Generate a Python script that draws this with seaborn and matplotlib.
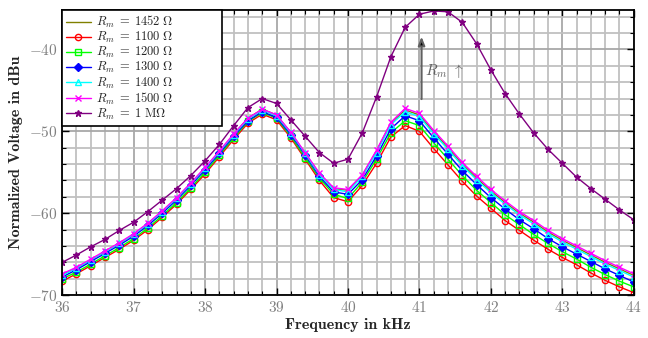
import numpy as np
import pandas as pd
import matplotlib
matplotlib.use('Agg')
import matplotlib.pyplot as plt
import seaborn as sns
from matplotlib.ticker import MultipleLocator

sns.set_style('ticks')
plt.rcParams['font.family'] = ['cmr10', 'DejaVu Serif']
plt.rcParams['mathtext.fontset'] = 'cm'
plt.rcParams['axes.unicode_minus'] = False
plt.rcParams['axes.formatter.use_mathtext'] = True

# Frequenz in kHz (Marker alle 0.2 kHz)
freq = [36.0, 36.2, 36.4, 36.6, 36.8, 37.0, 37.2, 37.4, 37.6, 37.8,
        38.0, 38.2, 38.4, 38.6, 38.8, 39.0, 39.2, 39.4, 39.6, 39.8,
        40.0, 40.2, 40.4, 40.6, 40.8, 41.0, 41.2, 41.4, 41.6, 41.8,
        42.0, 42.2, 42.4, 42.6, 42.8, 43.0, 43.2, 43.4, 43.6, 43.8, 44.0]

v_1100 = [-68.3, -67.4, -66.4, -65.4, -64.4, -63.3, -62.0, -60.5, -58.9, -57.1,
          -55.2, -53.1, -51.0, -49.0, -47.9, -48.6, -50.8, -53.4, -56.0, -58.1,
          -58.6, -56.6, -53.9, -50.7, -49.3, -50.0, -52.1, -54.1, -56.1, -57.9,
          -59.4, -60.9, -62.1, -63.3, -64.4, -65.4, -66.3, -67.3, -68.2, -69.0, -69.7]
v_1200 = [-68.0, -67.2, -66.2, -65.2, -64.2, -63.1, -61.8, -60.3, -58.7, -56.9,
          -55.0, -52.9, -50.8, -48.8, -47.7, -48.4, -50.6, -53.2, -55.7, -57.7,
          -58.2, -56.2, -53.4, -50.2, -48.7, -49.3, -51.4, -53.4, -55.4, -57.2,
          -58.7, -60.2, -61.4, -62.6, -63.7, -64.7, -65.6, -66.6, -67.5, -68.3, -69.0]
v_1300 = [-67.8, -66.9, -65.9, -64.9, -63.9, -62.8, -61.5, -60.0, -58.4, -56.6,
          -54.7, -52.7, -50.6, -48.7, -47.6, -48.3, -50.4, -52.9, -55.5, -57.4,
          -57.7, -55.9, -53.0, -49.7, -48.1, -48.7, -50.8, -52.8, -54.8, -56.5,
          -58.1, -59.5, -60.8, -61.9, -63.1, -64.1, -65.0, -65.9, -66.8, -67.6, -68.4]
v_1400 = [-67.6, -66.7, -65.7, -64.7, -63.7, -62.6, -61.3, -59.8, -58.2, -56.4,
          -54.5, -52.5, -50.4, -48.5, -47.4, -48.1, -50.2, -52.7, -55.3, -57.1,
          -57.4, -55.5, -52.6, -49.2, -47.6, -48.2, -50.3, -52.2, -54.2, -55.9,
          -57.5, -58.9, -60.2, -61.3, -62.5, -63.5, -64.4, -65.3, -66.2, -67.0, -67.8]
v_1452 = [-67.5, -66.7, -65.7, -64.7, -63.7, -62.6, -61.3, -59.8, -58.2, -56.4,
          -54.5, -52.5, -50.4, -48.4, -47.3, -48.0, -50.2, -52.7, -55.2, -57.0,
          -57.2, -55.4, -52.4, -49.0, -47.4, -48.0, -50.1, -52.0, -54.0, -55.7,
          -57.3, -58.7, -60.0, -61.1, -62.3, -63.3, -64.2, -65.1, -66.0, -66.8, -67.6]
v_1500 = [-67.4, -66.6, -65.6, -64.6, -63.6, -62.5, -61.2, -59.7, -58.1, -56.3,
          -54.4, -52.4, -50.3, -48.4, -47.3, -48.0, -50.1, -52.6, -55.1, -56.9,
          -57.1, -55.3, -52.3, -48.9, -47.2, -47.8, -49.9, -51.8, -53.8, -55.5,
          -57.1, -58.5, -59.8, -60.9, -62.1, -63.1, -64.0, -64.9, -65.8, -66.6, -67.4]
v_1M = [-66.0, -65.1, -64.1, -63.2, -62.1, -61.1, -59.8, -58.4, -57.0, -55.4,
        -53.6, -51.6, -49.3, -47.1, -46.0, -46.6, -48.6, -50.6, -52.6, -53.9,
        -53.4, -50.2, -45.8, -40.9, -37.3, -35.7, -35.3, -35.4, -36.7, -39.3,
        -42.5, -45.4, -47.9, -50.2, -52.2, -53.9, -55.6, -57.0, -58.3, -59.6, -60.8]

labels = [r'$R_m\;=\;1452\ \Omega$', r'$R_m\;=\;1100\ \Omega$', r'$R_m\;=\;1200\ \Omega$',
          r'$R_m\;=\;1300\ \Omega$', r'$R_m\;=\;1400\ \Omega$', r'$R_m\;=\;1500\ \Omega$',
          r'$R_m\;=\;1\ \mathrm{M}\Omega$']
series = [v_1452, v_1100, v_1200, v_1300, v_1400, v_1500, v_1M]

# Stil je Kurve: Farbe, Marker, gefuellt?
styles = [('#808000', None, True),
          ('#ff0000', 'o', False),
          ('#00ff00', 's', False),
          ('#0000ff', 'D', True),
          ('#00ffff', '^', False),
          ('#ff00ff', 'x', True),
          ('#800080', '*', True)]

fig, ax = plt.subplots(figsize=(6.48, 3.38), dpi=100)
fig.subplots_adjust(left=0.096, right=0.978, bottom=0.127, top=0.970)

for vals, lab, (col, mk, filled) in zip(series, labels, styles):
    kw = dict(color=col, linewidth=1.0, label=lab)
    if mk is not None:
        kw.update(marker=mk, markersize=4.5 if mk != '*' else 5,
                  markeredgecolor=col, markeredgewidth=1.0,
                  markerfacecolor=col if filled else 'none')
    sns.lineplot(x=freq, y=vals, ax=ax, **kw)

ax.set_xlim(36, 44)
ax.set_ylim(-70, -35.2)
ax.xaxis.set_major_locator(MultipleLocator(1))
ax.xaxis.set_minor_locator(MultipleLocator(0.2))
ax.yaxis.set_major_locator(MultipleLocator(10))
ax.yaxis.set_minor_locator(MultipleLocator(2))
ax.grid(which='major', color='#a8a8a8', linewidth=1.3)
ax.grid(which='minor', color='#c0c0c0', linewidth=1.3)
ax.set_axisbelow(True)
ax.tick_params(which='both', direction='in', top=True, right=True,
               colors='black', labelcolor='#808080', labelsize=11)
ax.tick_params(which='major', length=5, width=1)
ax.tick_params(which='minor', length=3, width=0.8)
for s in ax.spines.values():
    s.set_linewidth(1.3)
    s.set_color('black')

ax.set_xlabel('Frequency in kHz', family=['cmb10', 'DejaVu Serif'], fontsize=11.5, labelpad=2)
ax.set_ylabel('Normalized Voltage in dBu', family=['cmb10', 'DejaVu Serif'], fontsize=11.5, labelpad=4)

ax.annotate('', xy=(41.03, -38.1), xytext=(41.03, -46.4),
            arrowprops=dict(arrowstyle='-|>,head_length=0.5,head_width=0.2',
                            fc='black', ec='#606060', lw=1.5))
ax.text(41.08, -42.6, r'$R_m\ \uparrow$', color='#606060', fontsize=11, va='center')

leg = ax.legend(loc='upper left', bbox_to_anchor=(0, 1, 0.28, 0), mode='expand',
                borderaxespad=0, fontsize=9, frameon=True,
                fancybox=False, framealpha=1, edgecolor='black',
                labelspacing=0.0, handlelength=2.0, handletextpad=0.4, borderpad=0.3)
leg.get_frame().set_linewidth(1.2)

plt.savefig('out.png', dpi=100)
